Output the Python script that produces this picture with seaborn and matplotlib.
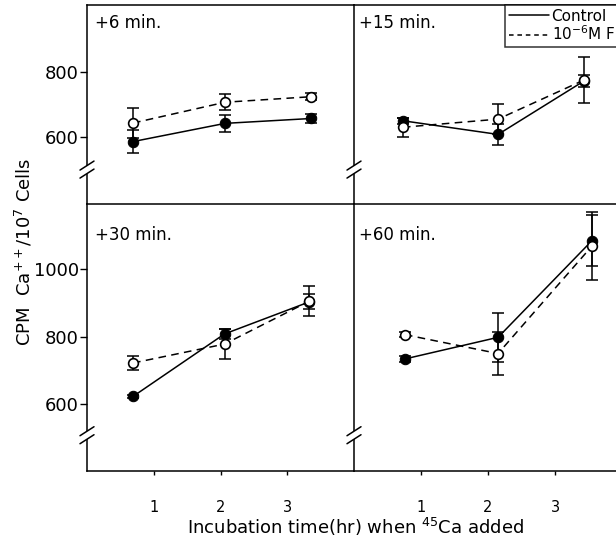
import numpy as np
import pandas as pd
import matplotlib
matplotlib.use("Agg")
import matplotlib.pyplot as plt
from matplotlib.patches import Rectangle
from matplotlib.lines import Line2D
import seaborn as sns

# ---------------- data ----------------
panel_titles = ["+6 min.", "+15 min.", "+30 min.", "+60 min."]
treatments = ["Control", "10$^{-6}$M F"]
tick_hours = [1, 2, 3]
tick_labels = ["1", "2", "3"]

hours_6 = [0.69, 2.07, 3.36]
control_6 = [586, 642, 657]
control_6_err = [35, 27, 15]
fluor_6 = [643, 707, 724]
fluor_6_err = [47, 25, 10]

hours_15 = [0.73, 2.15, 3.43]
control_15 = [650, 608, 772]
control_15_err = [10, 33, 19]
fluor_15 = [630, 655, 775]
fluor_15_err = [30, 46, 70]

hours_30 = [0.69, 2.06, 3.33]
control_30 = [623, 808, 903]
control_30_err = [5, 15, 22]
fluor_30 = [722, 778, 905]
fluor_30_err = [22, 45, 45]

hours_60 = [0.76, 2.15, 3.55]
control_60 = [734, 798, 1084]
control_60_err = [10, 72, 75]
fluor_60 = [806, 750, 1068]
fluor_60_err = [8, 65, 100]

top_yticks = [600, 800]
bottom_yticks = [600, 800, 1000]

# ---------------- style ----------------
sns.set_style("ticks")
plt.rcParams["font.family"] = ["DejaVu Sans"]
plt.rcParams["axes.linewidth"] = 1.1
for k in ("text.color", "axes.labelcolor", "xtick.color", "ytick.color",
          "axes.edgecolor"):
    plt.rcParams[k] = "black"

W, H = 616, 541
fig = plt.figure(figsize=(W / 100, H / 100), dpi=100)

def px_axes(x0, y0, x1, y1):
    return fig.add_axes([x0 / W, 1 - y1 / H, (x1 - x0) / W, (y1 - y0) / H])

ax_tl = px_axes(87, 5, 354, 204)
ax_tr = px_axes(354, 5, 622, 204)
ax_bl = px_axes(87, 204, 354, 471)
ax_br = px_axes(354, 204, 622, 471)

panels = [
    (ax_tl, hours_6, control_6, control_6_err, fluor_6, fluor_6_err, (394, 1006), 0.173),
    (ax_tr, hours_15, control_15, control_15_err, fluor_15, fluor_15_err, (394, 1006), 0.173),
    (ax_bl, hours_30, control_30, control_30_err, fluor_30, fluor_30_err, (402, 1193), 0.134),
    (ax_br, hours_60, control_60, control_60_err, fluor_60, fluor_60_err, (402, 1193), 0.134),
]

def draw_break(ax, yfrac):
    pos = ax.get_position()
    wpx = pos.width * W
    hpx = pos.height * H
    ax.add_patch(Rectangle((-3 / wpx, yfrac - 4 / hpx), 6 / wpx, 8 / hpx,
                           transform=ax.transAxes, fc="white", ec="none",
                           clip_on=False, zorder=10))
    for off in (4, -4):
        ax.plot([-7 / wpx, 7 / wpx],
                [yfrac + (off - 4.5) / hpx, yfrac + (off + 4.5) / hpx],
                transform=ax.transAxes, color="black", lw=1.1,
                clip_on=False, zorder=11)

for i, (ax, hrs, c, ce, f, fe, ylim, brk) in enumerate(panels):
    df_c = pd.DataFrame({"hour": hrs, "cpm": c})
    df_f = pd.DataFrame({"hour": hrs, "cpm": f})
    ax.errorbar(hrs, c, yerr=ce, fmt="none", ecolor="black", elinewidth=1.1,
                capsize=4.5, capthick=1.1, zorder=3)
    ax.errorbar(hrs, f, yerr=fe, fmt="none", ecolor="black", elinewidth=1.1,
                capsize=4.5, capthick=1.1, zorder=3)
    sns.lineplot(data=df_c, x="hour", y="cpm", ax=ax, color="black",
                 linewidth=1.1, marker="o", markersize=7.5,
                 markerfacecolor="black", markeredgecolor="black",
                 estimator=None, legend=False, zorder=4)
    sns.lineplot(data=df_f, x="hour", y="cpm", ax=ax, color="black",
                 linewidth=1.1, linestyle=(0, (5, 3.5)), marker="o",
                 markersize=7, markerfacecolor="white",
                 markeredgecolor="black", markeredgewidth=1.2,
                 estimator=None, legend=False, zorder=5)
    ax.set_xlim(0, 4)
    ax.set_ylim(*ylim)
    ax.set_xlabel("")
    ax.set_ylabel("")
    for s in ax.spines.values():
        s.set_color("black")
        s.set_linewidth(1.1)
    if i in (0, 1):
        ax.spines["bottom"].set_visible(False)
        ax.set_xticks([])
    else:
        ax.set_xticks(tick_hours)
        ax.set_xticklabels(tick_labels, fontsize=10.5)
        ax.tick_params(axis="x", direction="out", length=3, width=1, pad=18)
    if i in (0, 2):
        ax.spines["right"].set_visible(False)
        yt = top_yticks if i == 0 else bottom_yticks
        ax.set_yticks(yt)
        ax.set_yticklabels([str(v) for v in yt], fontsize=13)
        ax.tick_params(axis="y", direction="out", length=5, width=1, pad=1)
    else:
        ax.set_yticks([])
    ax.text(0.03 if i in (0, 2) else 0.02, 0.91 if i in (0, 1) else 0.885,
            panel_titles[i], transform=ax.transAxes, fontsize=12,
            ha="left", va="center")
    draw_break(ax, brk)

# legend
handles = [Line2D([], [], color="black", lw=1.1),
           Line2D([], [], color="black", lw=1.1, linestyle=(0, (3, 2.5)))]
leg = fig.legend(handles, treatments, loc="upper left",
                 bbox_to_anchor=(505 / W, 1 - 5 / H), borderaxespad=0,
                 fontsize=11, frameon=True, fancybox=False, handlelength=2.6,
                 handletextpad=0.2, labelspacing=0.05, borderpad=0.25)
leg.get_frame().set_edgecolor("black")
leg.get_frame().set_linewidth(1.1)

fig.text(355 / W, 1 - 527 / H, "Incubation time(hr) when $^{45}$Ca added",
         ha="center", va="center", fontsize=13)
fig.text(24 / W, 1 - 252 / H, "CPM  Ca$^{++}$/10$^{7}$ Cells", rotation=90,
         ha="center", va="center", fontsize=13)

fig.savefig("out.png", dpi=100)
